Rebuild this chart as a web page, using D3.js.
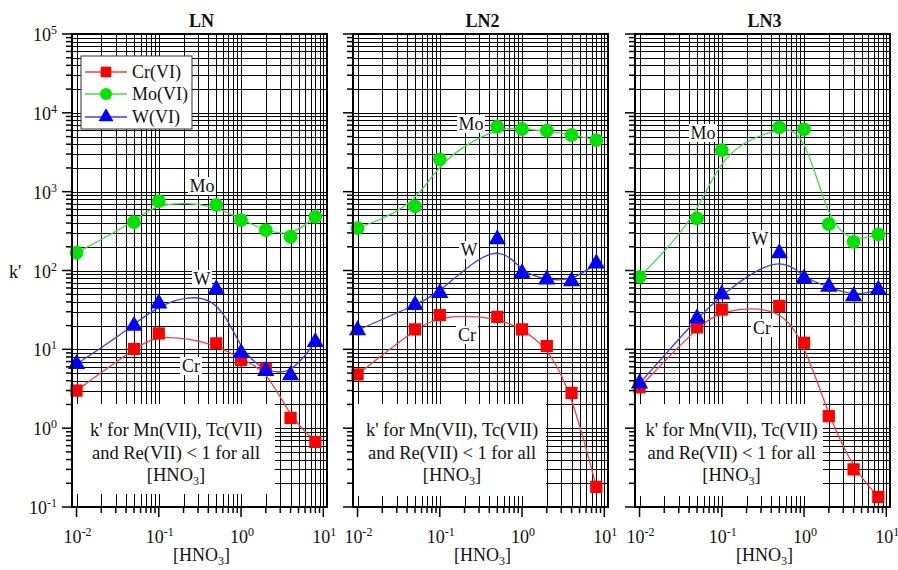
<!DOCTYPE html>
<html><head><meta charset="utf-8">
<script src="https://cdn.jsdelivr.net/npm/d3@7"></script>
<style>body{margin:0;background:#fff}svg{display:block;font-family:"Liberation Serif","Times New Roman",serif}</style>
</head><body><svg id="c" width="898" height="570"></svg>
<script>
// ---- data ----
const hno3 = [0.01, 0.05, 0.1, 0.5, 1, 2, 4, 8];
const panelNames = ["LN", "LN2", "LN3"];
const seriesNames = ["Cr(VI)", "Mo(VI)", "W(VI)"];
const crLN  = [3.0, 10.1, 15.9, 11.9, 7.3, 5.7, 1.35, 0.67];
const moLN  = [168, 410, 760, 680, 436, 326, 268, 480];
const wLN   = [6.5, 19.9, 38.2, 58, 9.0, 5.3, 4.7, 12.4];
const crLN2 = [4.8, 17.9, 27.2, 25.8, 17.9, 11, 2.8, 0.18];
const moLN2 = [345, 650, 2570, 6660, 6230, 5930, 5230, 4515];
const wLN2  = [17.5, 36.4, 52, 250, 92, 77, 73, 123];
const crLN3 = [3.3, 19, 32, 35.6, 12.1, 1.42, 0.30, 0.134];
const moLN3 = [83, 458, 3370, 6540, 6170, 388, 231, 287];
const wLN3  = [3.7, 24.7, 50, 165, 79, 62, 47, 57];
const xTickExps = [-2, -1, 0, 1];
const yTickExps = [-1, 0, 1, 2, 3, 4, 5];
const noteLines = ["k' for Mn(VII), Tc(VII)", "and Re(VII) < 1 for all"];

// ---- layout ----
const svg = d3.select("#c");
const yTop = 34, yBot = 507;
const panelRanges = [[72, 327], [353, 608], [635, 890]];
const panelData = [[crLN, moLN, wLN], [crLN2, moLN2, wLN2], [crLN3, moLN3, wLN3]];
const colors = {line: ["#ff3c3c", "#3ce03c", "#3c3cff"], mark: ["#ff0000", "#00e400", "#0000ff"]};
const labelPos = [
  {Mo: [202, 186], W: [202, 279], Cr: [191, 366]},
  {Mo: [471, 124], W: [469, 250], Cr: [467, 335]},
  {Mo: [703, 133], W: [760, 239], Cr: [762, 328]}
];
const noteBox = [[73, 404, 275, 494], [354, 404, 546, 496], [636, 404, 823, 496]];

const y = d3.scaleLog().domain([0.1, 1e5]).range([yBot, yTop]);

function addPow(text, e) {
  text.append("tspan").text("10");
  text.append("tspan").attr("dy", -7).attr("font-size", 12).text(e);
}
function addHNO3(text) {
  text.append("tspan").text("[HNO");
  text.append("tspan").attr("dy", 4).attr("font-size", 12).text("3");
  text.append("tspan").attr("dy", -4).text("]");
}

const xGrid = [];
for (let d = -2; d <= 0; d++) for (let k = 1; k <= 9; k++) xGrid.push(k * Math.pow(10, d));
xGrid.push(10);
const yGrid = [];
for (let d = -1; d <= 4; d++) for (let k = 1; k <= 9; k++) yGrid.push(k * Math.pow(10, d));
yGrid.push(1e5);
const isMajor = v => Math.abs(Math.log10(v) - Math.round(Math.log10(v))) < 1e-9;
const px = v => Math.round(v) + 0.5;

panelRanges.forEach((rng, pi) => {
  const x = d3.scaleLog().domain([Math.pow(10, -2.055), Math.pow(10, 1.045)]).range(rng);
  const g = svg.append("g");
  const [x0, x1] = rng;

  const grid = g.append("g").attr("stroke", "#000").attr("stroke-width", 1).attr("shape-rendering", "crispEdges");
  grid.selectAll(".vx").data(xGrid).join("line")
    .attr("x1", d => px(x(d))).attr("x2", d => px(x(d))).attr("y1", yTop).attr("y2", yBot);
  grid.selectAll(".hy").data(yGrid).join("line")
    .attr("y1", d => px(y(d))).attr("y2", d => px(y(d))).attr("x1", x0).attr("x2", x1);

  const nb = noteBox[pi];
  g.append("rect").attr("x", nb[0]).attr("y", nb[1]).attr("width", nb[2] - nb[0]).attr("height", nb[3] - nb[1]).attr("fill", "#fff");
  const cx = (nb[0] + nb[2]) / 2 + 2;
  noteLines.forEach((t, i) => {
    g.append("text").attr("x", cx).attr("y", 436 + i * 23).attr("text-anchor", "middle")
      .attr("font-size", 18.5).attr("fill", "#111").text(t);
  });
  addHNO3(g.append("text").attr("x", cx).attr("y", 481).attr("text-anchor", "middle").attr("font-size", 18.5).attr("fill", "#111"));

  const line = d3.line().x(d => x(d[0])).y(d => y(d[1])).curve(d3.curveBasis);
  const data = panelData[pi];
  data.forEach((vals, si) => {
    const pts = hno3.map((h, i) => [h, vals[i]]);
    g.append("path").datum(pts).attr("d", line).attr("fill", "none")
      .attr("stroke", colors.line[si]).attr("stroke-width", 1.3);
  });
  const sym = [d3.symbolSquare, d3.symbolCircle, d3.symbolTriangle];
  const sizes = [150, 150, 130];
  data.forEach((vals, si) => {
    g.selectAll(null).data(hno3.map((h, i) => [h, vals[i]])).join("path")
      .attr("transform", d => `translate(${x(d[0])},${y(d[1])})`)
      .attr("d", d3.symbol().type(sym[si]).size(sizes[si]))
      .attr("fill", colors.mark[si]);
  });

  Object.entries(labelPos[pi]).forEach(([t, p]) => {
    const w = t === "Mo" ? 28 : (t === "W" ? 20 : 22);
    g.append("rect").attr("x", p[0] - w / 2).attr("y", p[1] - 9).attr("width", w).attr("height", 18).attr("fill", "#fff");
    g.append("text").attr("x", p[0]).attr("y", p[1] + 6).attr("text-anchor", "middle").attr("font-size", 18).attr("fill", "#111").text(t);
  });

  g.append("rect").attr("x", x0).attr("y", yTop).attr("width", x1 - x0).attr("height", yBot - yTop)
    .attr("fill", "none").attr("stroke", "#000").attr("stroke-width", 2);

  const tk = g.append("g").attr("stroke", "#000").attr("stroke-width", 1.5);
  tk.selectAll(".ty").data(yGrid).join("line")
    .attr("y1", d => y(d)).attr("y2", d => y(d)).attr("x1", x0).attr("x2", d => x0 - (isMajor(d) ? 10 : 6));
  tk.selectAll(".tx").data(xGrid).join("line")
    .attr("x1", d => x(d)).attr("x2", d => x(d)).attr("y1", yBot).attr("y2", d => yBot + (isMajor(d) ? 10 : 6));

  xTickExps.forEach(e => {
    addPow(g.append("text").attr("x", x(Math.pow(10, e)) + 1).attr("y", 543).attr("text-anchor", "middle")
      .attr("font-size", 18).attr("fill", "#111"), e);
  });
  addHNO3(g.append("text").attr("x", (x0 + x1) / 2 + 2).attr("y", 561).attr("text-anchor", "middle").attr("font-size", 18).attr("fill", "#111"));
  g.append("text").attr("x", (x0 + x1) / 2 + 2).attr("y", 27).attr("text-anchor", "middle")
    .attr("font-size", 18).attr("font-weight", "bold").attr("fill", "#111").text(panelNames[pi]);

  if (pi === 0) {
    yTickExps.forEach(e => {
      addPow(g.append("text").attr("x", 57).attr("y", y(Math.pow(10, e)) + 7).attr("text-anchor", "end")
        .attr("font-size", 18).attr("fill", "#111"), e);
    });
    g.append("text").attr("x", 9).attr("y", 278).attr("font-size", 18).attr("fill", "#111").text("k'");

    const lg = g.append("g");
    lg.append("rect").attr("x", 81).attr("y", 56).attr("width", 111).attr("height", 73)
      .attr("fill", "#fff").attr("stroke", "#333").attr("stroke-width", 1);
    const rows = [72, 94, 117];
    seriesNames.forEach((n, si) => {
      lg.append("line").attr("x1", 85).attr("x2", 127).attr("y1", rows[si]).attr("y2", rows[si])
        .attr("stroke", colors.line[si]).attr("stroke-width", 1.3);
      lg.append("path").attr("transform", `translate(106,${rows[si]})`)
        .attr("d", d3.symbol().type(sym[si]).size(sizes[si] * 0.75)).attr("fill", colors.mark[si]);
      lg.append("text").attr("x", 132).attr("y", rows[si] + 6).attr("font-size", 18).attr("fill", "#111").text(n);
    });
  }
});
</script></body></html>
